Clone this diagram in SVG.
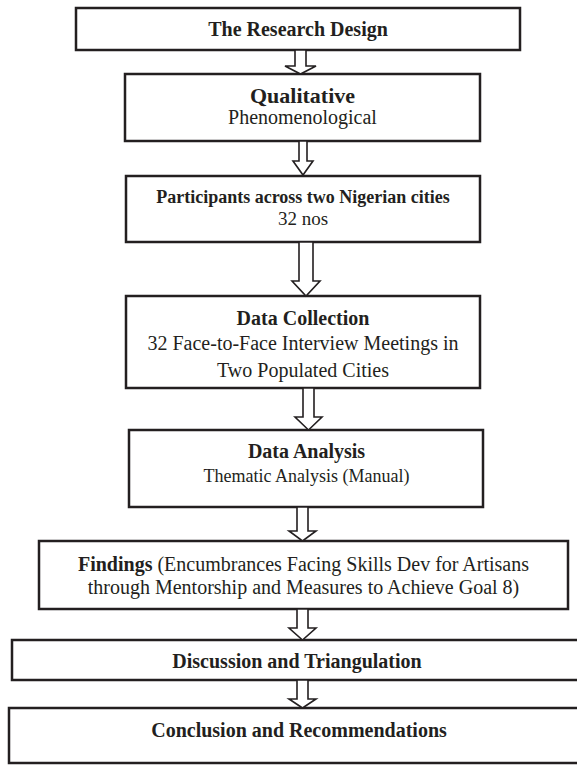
<svg xmlns="http://www.w3.org/2000/svg" width="577" height="765" viewBox="0 0 577 765">
<style>
.box{fill:#fff;stroke:#231f20;stroke-width:2.5}
.arr{fill:#fff;stroke:#231f20;stroke-width:1.6;stroke-linejoin:miter}
text{font-family:"Liberation Serif","Times New Roman",serif;fill:#231f20;text-anchor:middle;font-size:20px}
.b{font-weight:bold}
</style>
<rect width="577" height="765" fill="#fff"/>
<g id="n1"><rect class="box" x="76" y="8" width="444" height="42"/><text class="b" x="298" y="36">The Research Design</text></g>
<g id="n2"><rect class="box" x="125" y="74" width="355" height="67"/><text class="b" x="302.5" y="103" style="font-size:22px">Qualitative</text><text x="302.5" y="124">Phenomenological</text></g>
<g id="n3"><rect class="box" x="126" y="176" width="354" height="66"/><text class="b" x="303" y="203" style="font-size:18px">Participants across two Nigerian cities</text><text x="303" y="225" style="font-size:19px">32 nos</text></g>
<g id="n4"><rect class="box" x="126" y="296" width="354" height="92"/><text class="b" x="303" y="325">Data Collection</text><text x="303" y="350">32 Face-to-Face Interview Meetings in</text><text x="303" y="377">Two Populated Cities</text></g>
<g id="n5"><rect class="box" x="129" y="430" width="354" height="77"/><text class="b" x="306.5" y="458">Data Analysis</text><text x="306.5" y="482" style="font-size:18px">Thematic Analysis (Manual)</text></g>
<g id="n6"><rect class="box" x="39" y="541" width="529" height="68"/><text x="303.5" y="571"><tspan class="b">Findings</tspan> (Encumbrances Facing Skills Dev for Artisans</text><text x="303.5" y="594">through Mentorship and Measures to Achieve Goal 8)</text></g>
<g id="n7"><rect class="box" x="12" y="640" width="580" height="40"/><text class="b" x="297" y="668">Discussion and Triangulation</text></g>
<g id="n8"><rect class="box" x="9" y="708" width="585" height="55"/><text class="b" x="299" y="737">Conclusion and Recommendations</text></g>
<g id="connectors">
<polygon class="arr" points="295,50 306,50 306,66 316,66 300.5,74 285,66 295,66"/>
<polygon class="arr" points="299,141 307,141 307,161 313,161 303,175 293,161 299,161"/>
<polygon class="arr" points="299,242 313,242 313,281 320,281 306,296 292,281 299,281"/>
<polygon class="arr" points="303,388 314,388 314,417 322,417 308.5,430 295,417 303,417"/>
<polygon class="arr" points="297,507 308,507 308,531 316,531 302.5,541 289,531 297,531"/>
<polygon class="arr" points="297,609 308,609 308,628 316,628 302.5,640 289,628 297,628"/>
<polygon class="arr" points="297,680 308,680 308,699 316,699 302.5,708 289,699 297,699"/>
</g>
</svg>
